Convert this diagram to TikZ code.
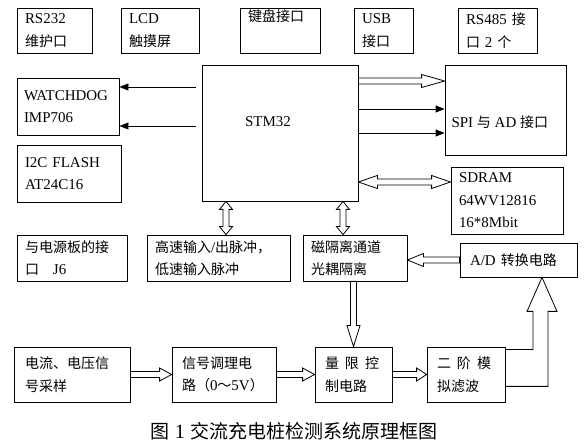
\documentclass[tikz,border=0pt]{standalone}
\usepackage{fontspec}
\setmainfont{Liberation Serif}[Scale=1.07]
\newfontfamily\zhfont{Noto Sans CJK SC}
\newcommand{\zh}[1]{{\zhfont #1}}
\usetikzlibrary{calc,arrows.meta}
\tikzset{
  box/.style={draw, align=left, inner xsep=8pt, inner ysep=2pt},
  tip/.style={-{Triangle[length=9pt,width=7pt]}},
%% hollow arrow drawn as an outline from start to target, #1 is the head length
  hollow/.style={to path={
    let \p1=(\tikztostart), \p2=(\tikztotarget),
        \n1={atan2((\y2)-(\y1),(\x2)-(\x1))}, \n2={veclen((\x2)-(\x1),(\y2)-(\y1))} in
    {[shift={(\p1)}, rotate=\n1]
      (0,3) -- (\n2-#1,3) -- (\n2-#1,6.5) -- (\n2,0) -- (\n2-#1,-6.5)
      -- (\n2-#1,-3) -- (0,-3) -- cycle}}},
  hollow/.default=12,
%% the same with a head at both ends
  hollow2/.style={to path={
    let \p1=(\tikztostart), \p2=(\tikztotarget),
        \n1={atan2((\y2)-(\y1),(\x2)-(\x1))}, \n2={veclen((\x2)-(\x1),(\y2)-(\y1))} in
    {[shift={(\p1)}, rotate=\n1]
      (0,0) -- (#1,6.5) -- (#1,3) -- (\n2-#1,3) -- (\n2-#1,6.5) -- (\n2,0)
      -- (\n2-#1,-6.5) -- (\n2-#1,-3) -- (#1,-3) -- (#1,-6.5) -- cycle}}},
  hollow2/.default=8
}
\begin{document}
\begin{tikzpicture}[x=1pt, y=-1pt, line width=0.8pt, font=\fontsize{14pt}{22.5pt}\selectfont]
\useasboundingbox (0,0) rectangle (584,443);
%% top row of interfaces
    \node[box, text width=59pt, minimum height=45pt] (rs232) at (54.5,30.5) {RS232\\\zh{维护口}};
    \node[box, text width=62pt, minimum height=45pt] (lcd) at (160,30.5) {LCD\\\zh{触摸屏}};
    \node[box, text width=64pt, minimum height=45pt] (kbd) at (280,30.5) {\zh{键盘接口}\\\strut};
    \node[box, text width=43pt, minimum height=45pt] (usb) at (383.5,30.5) {USB\\\zh{接口}};
    \node[box, text width=63pt, minimum height=45pt] (rs485) at (497.5,30.5) {RS485 \zh{接}\\\zh{口} 2 \zh{个}};
%% the processor
    \node[draw, minimum width=156pt, minimum height=136pt,
          label={[shift={(-12,-11)}]center:STM32}] (stm) at (280,133) {};
%% left column
    \node[box, inner xsep=7pt, text width=88pt, minimum height=57pt] (wdog) at (68,106.5) {WATCHDOG\\IMP706};
    \node[box, text width=88pt, minimum height=57pt] (flash) at (69,173.5) {I2C FLASH\\AT24C16};
    \node[box, text width=94pt, minimum height=46pt] (j6) at (72,258) {\zh{与电源板的接}\\\zh{口}\hspace{14pt}J6};
    \node[box, text width=127pt, minimum height=46pt] (pulse) at (218.5,258) {\zh{高速输入}/\zh{出脉冲，}\\\zh{低速输入脉冲}};
    \node[box, text width=88pt, minimum height=46pt] (iso) at (355,258) {\zh{磁隔离通道}\\\zh{光耦隔离}};
%% right column
    \node[draw, minimum width=121pt, minimum height=90pt,
          label={[anchor=west, shift={(3,12)}]west:SPI \zh{与} AD \zh{接口}}] (spi) at (505.5,110) {};
    \node[box, text width=96pt, minimum height=67pt] (sdram) at (507,200.5) {SDRAM\\64WV12816\\16*8Mbit};
    \node[box, inner xsep=10pt, text width=97pt, minimum height=34pt] (ad) at (518.5,260) {A/D \zh{转换电路}};
%% bottom row, the measuring chain
    \node[box, inner xsep=11pt, text width=94pt, minimum height=55pt] (samp) at (72,374.5) {\zh{电流、电压信}\\\zh{号采样}};
    \node[box, inner xsep=10pt, text width=84pt, minimum height=55pt] (cond) at (224,374.5) {\zh{信号调理电}\\\zh{路（}0\zh{～}5V\zh{）}};
    \node[box, inner xsep=10pt, text width=57pt, minimum height=55pt] (lim) at (353.5,374.5) {\zh{量\hspace{6pt}限\hspace{6pt}控}\\\zh{制电路}};
    \node[box, inner xsep=10pt, text width=58pt, minimum height=55pt] (filt) at (466,374.5) {\zh{二\hspace{6pt}阶\hspace{6pt}模}\\\zh{拟滤波}};
%% connectors
    \draw[tip, shorten <=6pt] (stm.west |- 0,87) -- (wdog.east |- 0,87);
    \draw[tip, shorten <=6pt] (stm.west |- 0,126) -- (wdog.east |- 0,126);
    \draw (stm.east |- 0,81) to[hollow=23] (spi.west |- 0,81);
    \draw[tip] (stm.east |- 0,109) -- (spi.west |- 0,109);
    \draw[tip] (stm.east |- 0,133) -- (spi.west |- 0,133);
    \draw (stm.east |- 0,182) to[hollow2=19] (sdram.west |- 0,182);
    \draw (stm.south -| 226,0) to[hollow2] (pulse.north -| 226,0);
    \draw (stm.south -| 343,0) to[hollow2] (iso.north -| 343,0);
    \draw (ad.west) to[hollow=16] (iso.east |- ad.west);
    \draw (iso.south -| lim.north) to[hollow=21] (lim.north);
    \draw (samp.east) to[hollow] (cond.west);
    \draw (cond.east) to[hollow] (lim.west);
    \draw (lim.east) to[hollow=10] (filt.west);
%% the wide arrow from the filter up to the A/D converter
    \coordinate (adin) at ($(ad.south)+(23.5,0)$);
    \draw ($(filt.north east)+(0,3)$) -| ($(adin)+(-9,34)$) -- ++(-6,0) -- (adin)
      -- ++(15,34) -- ++(-9,0) |- ($(filt.south east)+(0,-16)$);
%% caption
    \node[font=\fontsize{19pt}{22pt}\selectfont] (cap) at (294,431) {\zh{图} 1 \zh{交流充电桩检测系统原理框图}};
\end{tikzpicture}
\end{document}
